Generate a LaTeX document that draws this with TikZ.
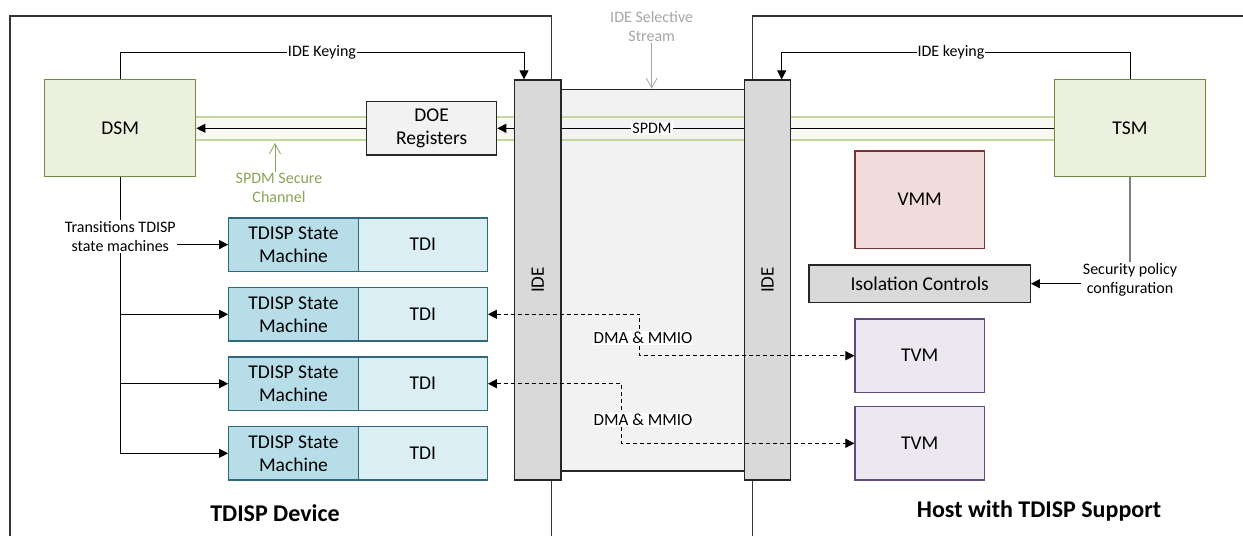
\documentclass[tikz,border=0pt]{standalone}
\usepackage{fontspec}
\setmainfont{Carlito}
\usetikzlibrary{arrows.meta}
\definecolor{frameC}{HTML}{333333}
\definecolor{dsmfill}{HTML}{EBF1DE}
\definecolor{dsmdraw}{HTML}{6F8A3C}
\definecolor{chanline}{HTML}{C3D69B}
\definecolor{chanfill}{HTML}{F7F9F2}
\definecolor{chantext}{HTML}{86A553}
\definecolor{barfill}{HTML}{D9D9D9}
\definecolor{bardraw}{HTML}{262626}
\definecolor{midfill}{HTML}{F2F2F2}
\definecolor{smfill}{HTML}{B7DEE8}
\definecolor{smdraw}{HTML}{31687A}
\definecolor{tdifill}{HTML}{DAEEF3}
\definecolor{vmmfill}{HTML}{F2DCDB}
\definecolor{vmmdraw}{HTML}{7A3433}
\definecolor{tvmfill}{HTML}{EBE8F0}
\definecolor{tvmdraw}{HTML}{5F4B80}
\definecolor{graytext}{HTML}{A6A6A6}
\definecolor{grayline}{HTML}{7F7F7F}
\begin{document}
\begin{tikzpicture}[x=1pt,y=-1pt,
  box/.style={draw, line width=1.2pt, inner sep=0pt, align=center,
    font=\fontsize{19.5}{23}\selectfont, text=black},
  gbox/.style={box, draw=dsmdraw, fill=dsmfill, minimum width=151, minimum height=97},
  smbox/.style={box, draw=smdraw, fill=smfill, minimum width=129.6, minimum height=53.3},
  tdibox/.style={box, draw=smdraw, fill=tdifill, minimum width=129, minimum height=53.3},
  tvmbox/.style={box, draw=tvmdraw, fill=tvmfill, minimum width=129.3, minimum height=73.3},
  barbox/.style={box, draw=bardraw, fill=barfill, minimum width=46.6, minimum height=400},
  lbl/.style={font=\fontsize{16}{19}\selectfont, align=center, inner sep=1.5pt, text=black},
  title/.style={font=\fontsize{24}{28}\selectfont\bfseries, text=black},
  arr/.style={-{Triangle[length=9pt,width=9pt]}, line width=1pt},
  dasharr/.style={{Triangle[length=9pt,width=9pt]}-{Triangle[length=9pt,width=9pt]},
    line width=1pt, dash pattern=on 4pt off 3pt},
  openarr/.style={-{Straight Barb[length=10pt,width=11pt]}, line width=0.8pt}
]
\useasboundingbox (0,0) rectangle (1243,536);

% frames
\draw[frameC, line width=1.5pt] (10,536) -- (10,16) -- (551.7,16) -- (551.7,536);
\draw[frameC, line width=1.5pt] (752.7,536) -- (752.7,16) -- (1243,16);

% SPDM secure channel band
\fill[chanfill] (196,117.3) rectangle (1054,139.7);
\draw[chanline, line width=1.8pt] (196,117.3) -- (1054,117.3);
\draw[chanline, line width=1.8pt] (196,139.7) -- (1054,139.7);

% middle stream rectangle
\node[box, draw=bardraw, fill=midfill, minimum width=183.3, minimum height=381.7] (mid) at (652.7,280.2) {};
\draw[chanline, line width=1.8pt] (561,117.3) -- (744.3,117.3);
\draw[chanline, line width=1.8pt] (561,139.7) -- (744.3,139.7);

% main boxes
\node[gbox] (dsm) at (120.3,128.3) {DSM};
\node[gbox] (tsm) at (1130,128.3) {TSM};
\node[box, draw=bardraw, fill=midfill, minimum width=130, minimum height=53.3] (doe) at (431.7,128.3) {DOE\\Registers};

% SPDM connectors
\draw[arr] (tsm.west) -- (doe.east);
\node[lbl, fill=white, inner sep=1pt] (spdm) at (652,128.3) {SPDM};
\draw[arr] (doe.west) -- (dsm.east);

% IDE bars
\node[barbox] (lbar) at (537.7,280) {};
\node[barbox] (rbar) at (767.5,280) {};
\node[rotate=90, font=\fontsize{19}{23}\selectfont] (lide) at (lbar.center) {IDE};
\node[rotate=90, font=\fontsize{19}{23}\selectfont] (ride) at (rbar.center) {IDE};

% IDE keying
\draw[arr] (dsm.north) -- (dsm.north |- 0,52.3) -| ([xshift=-13.7pt]lbar.north);
\node[lbl, fill=white, inner sep=0.5pt] (kl) at (322,52.3) {IDE Keying};
\draw[arr] (tsm.north) -- (tsm.north |- 0,52.3) -| ([xshift=14.2pt]rbar.north);
\node[lbl, fill=white, inner sep=0.5pt] (kr) at (951,52.3) {IDE keying};

% IDE selective stream
\node[lbl, text=graytext] (iss) at (651.7,26.5) {IDE Selective\\Stream};
\draw[openarr, graytext] (iss.south) -- (iss.south |- mid.north) ;

% SPDM secure channel label
\node[lbl, text=chantext] (sch) at (279,188) {SPDM Secure\\Channel};
\draw[openarr, chantext] (sch.north -| 275,0) -- (275,143);

% TDISP state machines
\node[smbox] (sm1) at (293.5,244.6) {TDISP State\\Machine};
\node[tdibox] (tdi1) at (422.8,244.6) {TDI};
\node[smbox] (sm2) at (293.5,314.3) {TDISP State\\Machine};
\node[tdibox] (tdi2) at (422.8,314.3) {TDI};
\node[smbox] (sm3) at (293.5,383.7) {TDISP State\\Machine};
\node[tdibox] (tdi3) at (422.8,383.7) {TDI};
\node[smbox] (sm4) at (293.5,453.3) {TDISP State\\Machine};
\node[tdibox] (tdi4) at (422.8,453.3) {TDI};

\node[lbl] (trans) at (120.3,236.5) {Transitions TDISP\\state machines};
\draw[line width=1pt] (dsm.south) -- (trans.north);
\draw[arr] (trans.east |- sm1.west) -- (sm1.west);
\draw[arr] (trans.south) |- (sm4.west);
\draw[arr] (trans.south |- sm2.west) -- (sm2.west);
\draw[arr] (trans.south |- sm3.west) -- (sm3.west);

% host side boxes
\node[box, draw=vmmdraw, fill=vmmfill, minimum width=129.3, minimum height=97.3] (vmm) at (919.7,199.7) {VMM};
\node[box, draw=bardraw, fill=barfill, minimum width=221.3, minimum height=37.3] (iso) at (919.7,283.7) {Isolation Controls};
\node[tvmbox] (tvm1) at (919.7,355.7) {TVM};
\node[tvmbox] (tvm2) at (919.7,443.3) {TVM};

% security policy
\node[lbl] (sec) at (1130,280) {Security policy\\configuration};
\draw[grayline, line width=1.2pt] (tsm.south) -- (sec.north);
\draw[arr] (sec.west |- iso.east) -- (iso.east);

% DMA & MMIO
\draw[dasharr] (tdi2.east) -- ++(151.7,0) |- (tvm1.west);
\node[lbl, fill=white, font=\fontsize{17}{20}\selectfont, inner sep=1pt] (dma1) at (643,337.7) {DMA \& MMIO};
\draw[dasharr] (tdi3.east) -- ++(133.4,0) |- (tvm2.west);
\node[lbl, fill=white, font=\fontsize{17}{20}\selectfont, inner sep=1pt] (dma2) at (643,420) {DMA \& MMIO};

% titles
\node[title] (tdev) at (275,512.7) {TDISP Device};
\node[title] (thost) at (1039,510.7) {Host with TDISP Support};
\end{tikzpicture}
\end{document}
